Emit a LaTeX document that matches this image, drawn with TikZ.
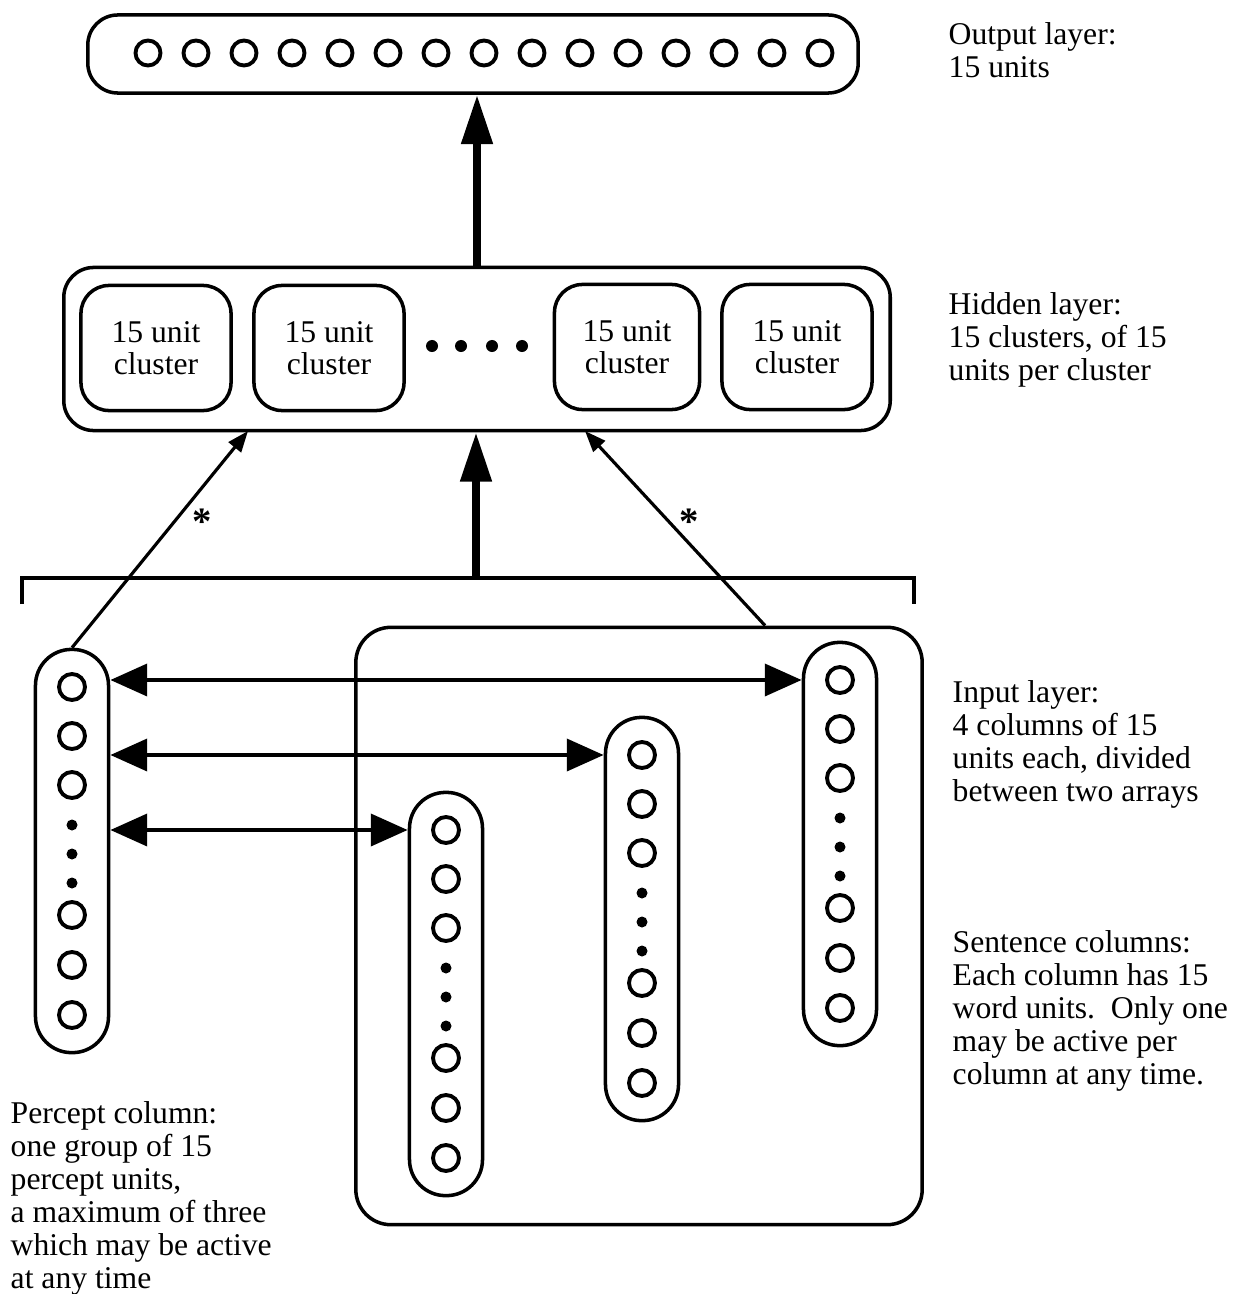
\documentclass[tikz,border=0pt]{standalone}
\usepackage{fontspec}
\setmainfont{Liberation Serif}
\usetikzlibrary{arrows.meta,positioning}
\tikzset{
  layerbox/.style={draw, line width=1pt, rounded corners=0.3cm, inner sep=0pt},
  clusterbox/.style={draw, line width=1pt, rounded corners=0.28cm, minimum width=1.5cm, minimum height=1.25cm, align=center, font=\fontsize{9}{9.1}\selectfont},
  colbox/.style={draw, line width=1pt, rounded corners=0.36cm, minimum width=0.73cm, minimum height=4.03cm, inner sep=0pt},
  unit/.style={draw, circle, line width=1.1pt, minimum size=0.26cm, inner sep=0pt},
  gapdot/.style={fill, circle, minimum size=0.11cm, inner sep=0pt},
  note/.style={anchor=north west, align=left, inner sep=0pt, font=\fontsize{9}{9.4}\selectfont},
  feed/.style={line width=2.3pt, -{Triangle[length=14pt,width=8.5pt]}},
  link/.style={line width=1.4pt, {Triangle[length=10.5pt,width=9pt]}-{Triangle[length=10.5pt,width=9pt]}},
  tap/.style={line width=0.9pt, -{Triangle[length=6pt,width=4.5pt]}},
  busline/.style={line width=1.1pt},
}
\begin{document}
\begin{tikzpicture}[x=0.01cm, y=-0.01cm]
  \useasboundingbox (0,0) rectangle (1243,1294);
  % Ausgabeschicht
  \node[layerbox, minimum width=7.7cm, minimum height=0.78cm] (output) at (473,54) {};
  \foreach \i in {1,...,15}
    \node[unit, minimum size=0.25cm] (o\i) at ({148+(\i-1)*48},53) {};
  \node[note] (outtxt) at (948,22) {Output layer:\\15 units};
  % verdeckte Schicht
  \node[layerbox, minimum width=8.26cm, minimum height=1.63cm] (hidden) at (477,349) {};
  \node[clusterbox] (c1) at (156,348) {15 unit\\cluster};
  \node[clusterbox] (c2) at (329,348) {15 unit\\cluster};
  \node[clusterbox, minimum width=1.45cm] (c3) at (627,347) {15 unit\\cluster};
  \node[clusterbox] (c4) at (797,347) {15 unit\\cluster};
  \foreach \x [count=\k] in {432,461,492,522}
    \node[gapdot, minimum size=0.12cm] (hd\k) at (\x,346) {};
  \node[note] (hidtxt) at (948,292) {Hidden layer:\\15 clusters, of 15\\units per cluster};
  \draw[feed] (hidden.north) -- (output.south -| hidden.north);
  % Eingabeschicht
  \draw[busline] (22,604) -- (22,578) -- (914,578) -- (914,604);
  \coordinate (bus) at (476,578);
  \draw[feed] (bus) -- (hidden.south -| bus);
  \node[layerbox, rounded corners=0.35cm, minimum width=5.66cm, minimum height=5.97cm] (sarr) at (639,926) {};
  \foreach \c/\x/\y in {p/72/687, s1/446/830, s2/642/755, s3/840/680}{
    \node[colbox] (\c) at (\x,\y+164) {};
    \foreach \d [count=\k] in {0,49,98,228,278,328}
      \node[unit] (\c-u\k) at (\x,\y+\d) {};
    \foreach \d [count=\k] in {138,167,196}
      \node[gapdot] (\c-d\k) at (\x,\y+\d) {};
  }
  \draw[link] (p.east |- s3-u1) -- (s3.west |- s3-u1);
  \draw[link] (p.east |- s2-u1) -- (s2.west |- s2-u1);
  \draw[link] (p.east |- s1-u1) -- (s1.west |- s1-u1);
  % Verbindungen mit Stern
  \coordinate (tapL) at (248,431);
  \coordinate (tapR) at (585,431);
  \draw[tap] (p.north) -- (tapL);
  \draw[tap] ([xshift=1.26cm]sarr.north) -- (tapR);
  \node[font=\fontsize{11}{11}\bfseries] (starL) at (202,522) {*};
  \node[font=\fontsize{11}{11}\bfseries] (starR) at (689,522) {*};
  % Beschriftungen
  \node[note] (intxt) at (952,680) {Input layer:\\4 columns of 15\\units each, divided\\between two arrays};
  \node[note] (sentxt) at (952,930) {Sentence columns:\\Each column has 15\\word units.\ \ Only one\\may be active per\\column at any time.};
  \node[note] (pertxt) at (10,1101) {Percept column:\\one group of 15\\percept units,\\a maximum of three\\which may be active\\at any time};
\end{tikzpicture}
\end{document}
